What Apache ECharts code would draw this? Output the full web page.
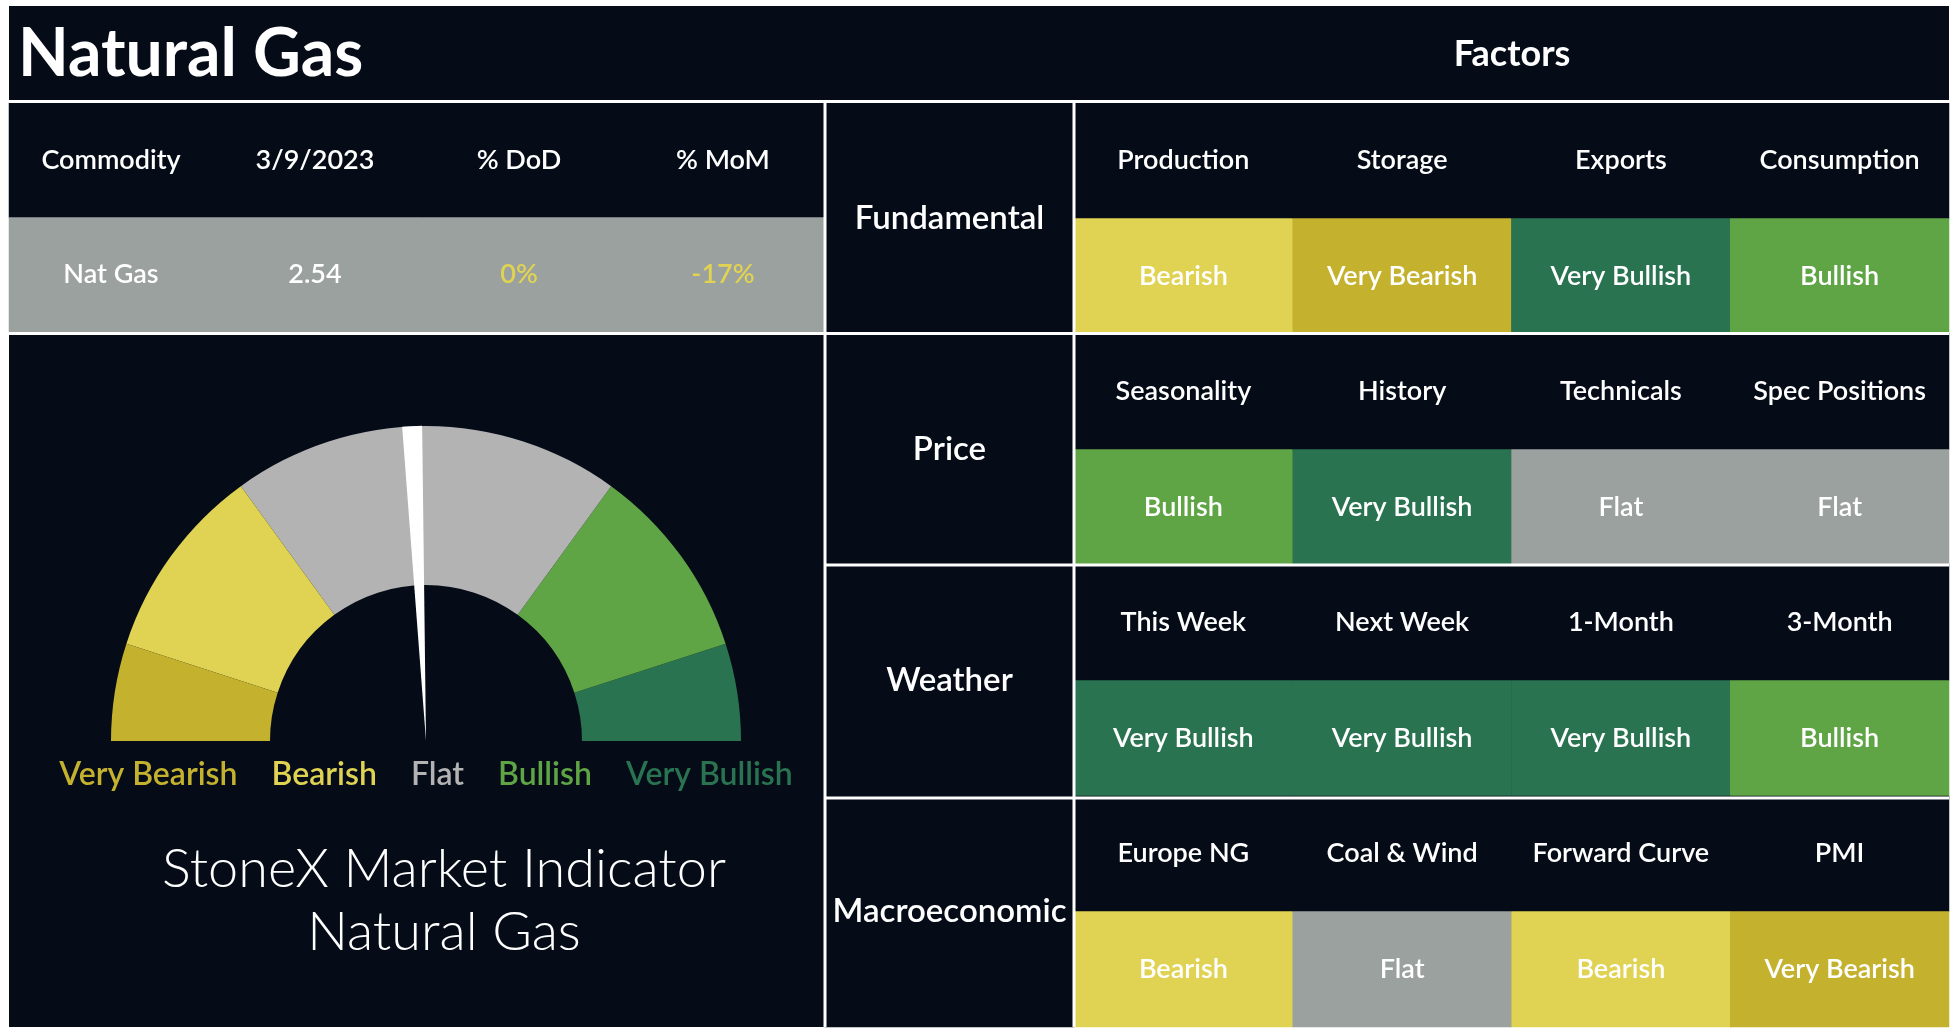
<!DOCTYPE html>
<html>
<head>
<meta charset="utf-8">
<script src="https://cdn.jsdelivr.net/npm/echarts@6/dist/echarts.min.js"></script>
<style>
  html, body { margin: 0; padding: 0; background: #ffffff; }
  #main { width: 1959px; height: 1035px; }
</style>
</head>
<body>
<div id="main"></div>
<script>
// ---- data ----
var commodityHeaders = ['Commodity', '3/9/2023', '% DoD', '% MoM'];
var commodityValues = ['Nat Gas', '2.54', '0%', '-17%'];

var groups = ['Fundamental', 'Price', 'Weather', 'Macroeconomic'];
var factorNames = [
    ['Production', 'Storage', 'Exports', 'Consumption'],
    ['Seasonality', 'History', 'Technicals', 'Spec Positions'],
    ['This Week', 'Next Week', '1-Month', '3-Month'],
    ['Europe NG', 'Coal & Wind', 'Forward Curve', 'PMI']
];
var factorSignals = [
    ['Bearish', 'Very Bearish', 'Very Bullish', 'Bullish'],
    ['Bullish', 'Very Bullish', 'Flat', 'Flat'],
    ['Very Bullish', 'Very Bullish', 'Very Bullish', 'Bullish'],
    ['Bearish', 'Flat', 'Bearish', 'Very Bearish']
];

var levels = ['Very Bearish', 'Bearish', 'Flat', 'Bullish', 'Very Bullish'];
var gaugeBands = [0.1, 0.3, 0.7, 0.9, 1];   // share of the dial for each level
var indicatorValue = 48.6;                  // needle, 0 = very bearish, 100 = very bullish

// ---- styles ----
var DARK = '#050c18';
var cellColors = {
    'Very Bearish': '#c4b22f',
    'Bearish': '#e0d252',
    'Flat': '#9aa19f',
    'Bullish': '#5fa545',
    'Very Bullish': '#297351'
};
var dialColors = ['#c4b22f', '#e0d252', '#b3b3b3', '#5fa545', '#297351'];
var FONT = 'Lato';

var myChart = echarts.init(document.getElementById('main'));

// commodity table cells
var commodityData = [];
commodityHeaders.forEach(function (h, c) {
    commodityData.push({ value: [c, 0, 0], text: h, itemStyle: { color: DARK } });
});
commodityValues.forEach(function (v, c) {
    commodityData.push({
        value: [c, 1, 1], text: v,
        itemStyle: { color: cellColors['Flat'] },
        label: { color: c >= 2 ? '#e0d252' : '#ffffff' }
    });
});

// group column cells
var groupData = groups.map(function (g, r) {
    return { value: [0, r, 0], text: g, itemStyle: { color: DARK } };
});

// factor cells: header row then signal row for every group
var factorData = [];
factorNames.forEach(function (row, g) {
    row.forEach(function (name, c) {
        factorData.push({ value: [c, g * 2, 0], text: name, itemStyle: { color: DARK } });
        var s = factorSignals[g][c];
        factorData.push({ value: [c, g * 2 + 1, levels.indexOf(s)], text: s, itemStyle: { color: cellColors[s] } });
    });
});

var cellLabel = function (size) {
    return {
        show: true,
        color: '#ffffff',
        fontFamily: FONT,
        fontWeight: 600,
        fontSize: size,
        formatter: function (p) { return p.data.text; }
    };
};

function hiddenCat(n) {
    var arr = [];
    for (var i = 0; i < n; i++) arr.push(i);
    return arr;
}

// gauge legend line under the dial
var richLegend = {};
var legendParts = [];
levels.forEach(function (l, i) {
    richLegend['l' + i] = { fill: dialColors[i], fontSize: 32, fontWeight: 600, fontFamily: FONT };
    legendParts.push('{l' + i + '|' + l + '}');
});
richLegend.gap = { width: 34, fontSize: 32 };

var lineStyle = { stroke: '#ffffff', lineWidth: 3 };

myChart.setOption({
    backgroundColor: '#ffffff',
    animation: false,
    grid: [
        { left: 9, top: 103, width: 816, height: 229 },
        { left: 825, top: 103, width: 249, height: 924 },
        { left: 1074, top: 103, width: 875, height: 924 }
    ],
    xAxis: [
        { gridIndex: 0, type: 'category', data: hiddenCat(4), show: false },
        { gridIndex: 1, type: 'category', data: hiddenCat(1), show: false },
        { gridIndex: 2, type: 'category', data: hiddenCat(4), show: false }
    ],
    yAxis: [
        { gridIndex: 0, type: 'category', data: hiddenCat(2), inverse: true, show: false },
        { gridIndex: 1, type: 'category', data: hiddenCat(4), inverse: true, show: false },
        { gridIndex: 2, type: 'category', data: hiddenCat(8), inverse: true, show: false }
    ],
    graphic: [
        { type: 'rect', z: -10, silent: true, shape: { x: 9, y: 6, width: 1940, height: 1021 }, style: { fill: DARK } },
        {
            type: 'text', silent: true, x: 18, y: 55,
            style: { text: 'Natural Gas', fill: '#ffffff', font: 'bold 66px ' + FONT, verticalAlign: 'middle' }
        },
        {
            type: 'text', silent: true, x: 1512, y: 54,
            style: { text: 'Factors', fill: '#ffffff', font: 'bold 36px ' + FONT, align: 'center', verticalAlign: 'middle' }
        },
        {
            type: 'text', silent: true, x: 426, y: 775,
            style: {
                text: legendParts.join('{gap| }'),
                rich: richLegend,
                align: 'center',
                verticalAlign: 'middle'
            }
        },
        { type: 'line', z: 10, silent: true, shape: { x1: 9, y1: 101.5, x2: 1949, y2: 101.5 }, style: lineStyle },
        { type: 'line', z: 10, silent: true, shape: { x1: 9, y1: 333.5, x2: 1949, y2: 333.5 }, style: lineStyle },
        { type: 'line', z: 10, silent: true, shape: { x1: 825, y1: 565, x2: 1949, y2: 565 }, style: lineStyle },
        { type: 'line', z: 10, silent: true, shape: { x1: 825, y1: 798, x2: 1949, y2: 798 }, style: lineStyle },
        { type: 'line', z: 10, silent: true, shape: { x1: 825, y1: 100, x2: 825, y2: 1027 }, style: lineStyle },
        { type: 'line', z: 10, silent: true, shape: { x1: 1074, y1: 100, x2: 1074, y2: 1027 }, style: lineStyle }
    ],
    series: [
        {
            type: 'heatmap', xAxisIndex: 0, yAxisIndex: 0, silent: true,
            data: commodityData, label: cellLabel(27), emphasis: { disabled: true }
        },
        {
            type: 'heatmap', xAxisIndex: 1, yAxisIndex: 1, silent: true,
            data: groupData, label: cellLabel(33), emphasis: { disabled: true }
        },
        {
            type: 'heatmap', xAxisIndex: 2, yAxisIndex: 2, silent: true,
            data: factorData, label: cellLabel(27), emphasis: { disabled: true }
        },
        {
            type: 'gauge',
            silent: true,
            center: [426, 741],
            radius: 315,
            startAngle: 180,
            endAngle: 0,
            min: 0,
            max: 100,
            axisLine: {
                lineStyle: {
                    width: 159,
                    color: gaugeBands.map(function (b, i) { return [b, dialColors[i]]; })
                }
            },
            axisTick: { show: false },
            splitLine: { show: false },
            axisLabel: { show: false },
            pointer: {
                icon: 'path://M0 0 L20 0 L10 300 Z',
                width: 20,
                length: '100%',
                offsetCenter: [0, 0],
                itemStyle: { color: '#ffffff' }
            },
            anchor: { show: false },
            title: {
                show: true,
                offsetCenter: [18, 160],
                color: '#ffffff',
                fontFamily: FONT,
                fontWeight: 300,
                fontSize: 54,
                lineHeight: 63
            },
            detail: { show: false },
            data: [{ value: indicatorValue, name: 'StoneX Market Indicator\nNatural Gas' }]
        }
    ]
});
</script>
</body>
</html>
